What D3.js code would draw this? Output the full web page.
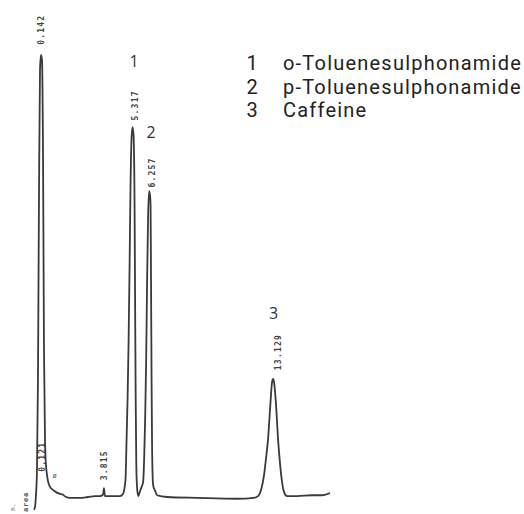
<!DOCTYPE html>
<html>
<head>
<meta charset="utf-8">
<script src="https://cdn.jsdelivr.net/npm/d3@7/dist/d3.min.js"></script>
<style>
  html, body { margin: 0; padding: 0; background: #fff; }
  svg { display: block; }
</style>
</head>
<body>
<svg id="chart" width="524" height="514"></svg>
<script>
// ---- Data (time in min, detector signal in % of solvent peak) ----
const traceTime = [
  -0.245, -0.19, -0.135, -0.08, -0.025, 0.03, 0.087, 0.142, 0.197, 0.252, 0.307, 0.362, 0.417, 0.472,
  0.527, 0.637, 0.802, 0.967, 1.187, 1.352, 1.517, 1.737, 2.287, 2.727, 3.112, 3.387, 3.552, 3.607,
  3.662, 3.937, 4.487, 4.652, 4.79, 4.852, 4.907, 4.962, 5.017, 5.072, 5.127, 5.182, 5.237, 5.292,
  5.322, 5.352, 5.387, 5.427, 5.467, 5.50, 5.542, 5.652, 5.762, 5.817, 5.872, 5.927, 5.982, 6.037,
  6.092, 6.147, 6.172, 6.197, 6.227, 6.257, 6.312, 6.422, 6.532, 7.082, 8.732, 10.932, 11.867, 12.087,
  12.252, 12.417, 12.527, 12.637, 12.747, 12.857, 12.912, 12.967, 13.077, 13.187, 13.297, 13.407,
  13.517, 13.682, 14.232, 15.057, 15.607, 16.047
];
const traceSignal = [
  -2.9, -2.3, 0.5, 6.1, 26.5, 67.2, 96.6, 100.0, 98.9, 78.5, 33.3, 12.9, 7.2, 5.0,
  3.6, 2.3, 1.6, 1.1, 0.7, 0.5, 0.0, -0.2, -0.2, 0.0, 0.2, 0.2, 0.5, 2.0,
  0.2, 0.2, 0.2, 0.7, 3.8, 13.1, 22.4, 35.1, 52.5, 71.3, 81.4, 83.7, 81.7, 65.2,
  43.0, 22.6, 7.2, 2.3, 0.7, 0.2, 0.7, 2.0, 3.4, 8.4, 17.4, 30.3, 49.1, 63.8,
  69.2, 68.1, 65.8, 48.9, 26.2, 10.6, 2.7, 1.4, 0.4, 0.0, -0.2, -0.4, -0.2, 0.2,
  1.6, 5.0, 8.8, 13.1, 19.9, 26.0, 26.7, 26.0, 20.8, 13.1, 7.5, 3.4,
  1.1, 0.2, 0.2, 0.4, 0.4, 0.9
];

// retention-time annotations printed by the integrator
const rtLabels = ["0.142", "0.121", "3.815", "5.317", "6.257", "13.129"];
const rtTimes  = [0.142, 0.197, 3.61, 5.317, 6.257, 13.18];
const rtSignal = [102.3, 5.7, 3.8, 85.2, 70.0, 28.7];

// peak numbers
const peakNumbers = ["1", "2", "3"];
const peakTimes   = [5.317, 6.257, 13.0];
const peakTops    = [83.7, 68.1, 26.0];

// legend
const legendNumbers = ["1", "2", "3"];
const legendNames   = ["o-Toluenesulphonamide", "p-Toluenesulphonamide", "Caffeine"];

// ---- Scales ----
const svg = d3.select("#chart");
const x = d3.scaleLinear().domain([0.142, 13.129]).range([41, 277]);
const y = d3.scaleLinear().domain([0, 100]).range([497, 55]);

// ---- Trace ----
const pts = traceTime.map((t, i) => [t, traceSignal[i]]);
const line = d3.line().x(d => x(d[0])).y(d => y(d[1])).curve(d3.curveMonotoneX);
svg.append("path")
  .datum(pts)
  .attr("d", line)
  .attr("fill", "none")
  .attr("stroke", "#3a3a3a")
  .attr("stroke-width", 1.8)
  .attr("stroke-linejoin", "round");

// ---- Integrator retention-time labels (rotated, reading upwards) ----
svg.selectAll("text.rt")
  .data(rtLabels)
  .join("text")
  .attr("class", "rt")
  .attr("transform", (d, i) => `translate(${x(rtTimes[i]) + 3},${y(rtSignal[i])}) rotate(-90)`)
  .attr("font-family", "DejaVu Sans Mono, monospace")
  .attr("font-weight", "bold")
  .attr("font-size", 8)
  .attr("letter-spacing", 1.2)
  .attr("fill", "#444")
  .text(d => d);

// small marks near the bottom left
svg.append("text")
  .attr("transform", `translate(${x(-0.57)},${y(-3.4)}) rotate(-90)`)
  .attr("font-family", "DejaVu Sans Mono, monospace")
  .attr("font-weight", "bold")
  .attr("font-size", 7)
  .attr("letter-spacing", 0.8)
  .attr("fill", "#555")
  .text("area");
svg.append("text")
  .attr("transform", `translate(${x(-1.3)},${y(-3.1)}) rotate(-90)`)
  .attr("font-family", "DejaVu Sans Mono, monospace")
  .attr("font-size", 6)
  .attr("fill", "#555")
  .text("h.");
svg.append("text")
  .attr("x", x(0.78)).attr("y", y(4.4))
  .attr("font-family", "DejaVu Sans Mono, monospace")
  .attr("font-size", 7)
  .attr("fill", "#555")
  .text("ø");

// ---- Peak numbers ----
svg.selectAll("text.pk")
  .data(peakNumbers)
  .join("text")
  .attr("class", "pk")
  .attr("x", (d, i) => x(peakTimes[i]) - 1)
  .attr("y", (d, i) => y(peakTops[i]) - [60, 58, 63][i])
  .attr("text-anchor", "middle")
  .attr("font-family", "Open Sans, sans-serif")
  .attr("font-size", 16)
  .attr("fill", "#333")
  .text(d => d);

// ---- Legend ----
const lg = svg.append("g");
const lgFont = "Roboto, sans-serif";
const lgSize = 20;
// measure the first name so the letter spacing matches the original width
const probe = lg.append("text").attr("font-family", lgFont).attr("font-size", lgSize).text(legendNames[0]);
const natural = probe.node().getComputedTextLength();
probe.remove();
const ls = Math.max(0, (239 - natural) / legendNames[0].length);
legendNumbers.forEach((n, i) => {
  const yy = 70 + i * 23.5;
  lg.append("text")
    .attr("x", 252).attr("y", yy)
    .attr("text-anchor", "middle")
    .attr("font-family", lgFont)
    .attr("font-size", lgSize)
    .attr("fill", "#222")
    .text(n);
  lg.append("text")
    .attr("x", 283).attr("y", yy)
    .attr("font-family", lgFont)
    .attr("font-size", lgSize)
    .attr("letter-spacing", ls)
    .attr("fill", "#222")
    .text(legendNames[i]);
});
</script>
</body>
</html>
